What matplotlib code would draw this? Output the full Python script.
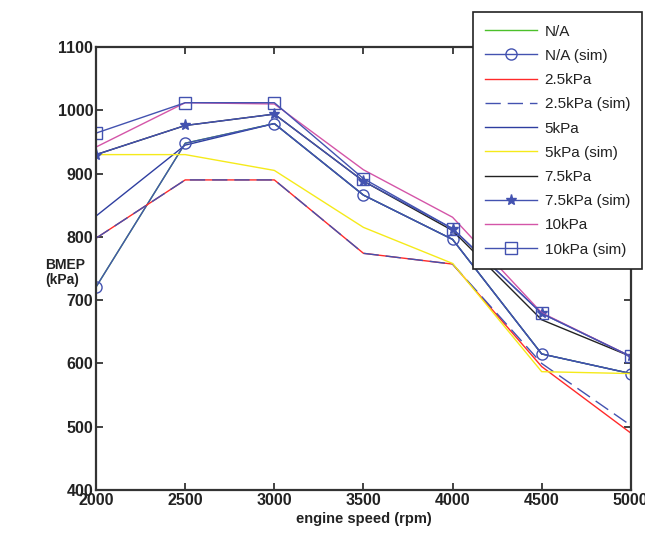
import matplotlib.pyplot as plt

plt.rcParams['font.family'] = ['Liberation Sans', 'DejaVu Sans']

rpm = [2000, 2500, 3000, 3500, 4000, 4500, 5000]

na_exp = [721, 948, 979, 866, 796, 615, 584]
na_sim = [721, 948, 979, 866, 796, 615, 584]
p25_exp = [798, 890, 890, 774, 757, 595, 490]
p25_sim = [798, 890, 890, 774, 757, 600, 502]
p5_exp = [833, 945, 979, 866, 796, 615, 584]
p5_sim = [930, 930, 905, 815, 758, 587, 584]
p75_exp = [930, 976, 994, 888, 810, 669, 611]
p75_sim = [930, 976, 994, 888, 813, 679, 611]
p10_exp = [942, 1012, 1010, 906, 831, 680, 611]
p10_sim = [964, 1012, 1012, 892, 813, 679, 611]

BLUE = "#4352b0"

fig = plt.figure(figsize=(6.45, 5.38), dpi=100)
ax = fig.add_axes([0.149, 0.0892, 0.829, 0.8234])

lw = 1.0
ax.plot(rpm, na_exp, color="#4cc02a", lw=lw, label="N/A")
ax.plot(rpm, p5_exp, color="#2e3ea0", lw=lw, label="5kPa")
ax.plot(rpm, na_sim, color=BLUE, lw=lw, marker="o", ms=8, mfc="none",
        mec=BLUE, label="N/A (sim)")
ax.plot(rpm, p25_exp, color="#ff2a2a", lw=lw, label="2.5kPa")
ax.plot(rpm, p25_sim, color=BLUE, lw=lw, dashes=(11, 5), label="2.5kPa (sim)")
ax.plot(rpm, p5_sim, color="#f5ea1a", lw=lw, label="5kPa (sim)")
ax.plot(rpm, p75_exp, color="#222222", lw=lw, label="7.5kPa")
ax.plot(rpm, p75_sim, color=BLUE, lw=lw, marker="*", ms=8, mec=BLUE,
        label="7.5kPa (sim)")
ax.plot(rpm, p10_exp, color="#d455a8", lw=lw, label="10kPa")
ax.plot(rpm, p10_sim, color=BLUE, lw=lw, marker="s", ms=9, mfc="none",
        mec=BLUE, label="10kPa (sim)")

ax.set_xlim(2000, 5000)
ax.set_ylim(400, 1100)
ax.set_xticks(rpm)
ax.set_yticks(range(400, 1101, 100))
ax.tick_params(direction="in", top=True, right=True, length=5, width=1.2,
               labelsize=11.5, colors="#222222", pad=2)
for lab in ax.get_xticklabels() + ax.get_yticklabels():
    lab.set_fontweight("bold")
for s in ax.spines.values():
    s.set_linewidth(1.6)
    s.set_color("#333333")

ax.set_xlabel("engine speed (rpm)", fontsize=10.5, fontweight="bold",
              color="#222222", labelpad=3)
fig.text(0.07, 0.493, "BMEP\n(kPa)", fontsize=10, fontweight="bold",
         color="#222222", ha="left", va="center", linespacing=1.1)

# legend kept in the same order as the reference
order = ["N/A", "N/A (sim)", "2.5kPa", "2.5kPa (sim)", "5kPa", "5kPa (sim)",
         "7.5kPa", "7.5kPa (sim)", "10kPa", "10kPa (sim)"]
handles, labels = ax.get_legend_handles_labels()
lookup = dict(zip(labels, handles))
leg = ax.legend([lookup[k] for k in order], order,
                loc="upper left", bbox_to_anchor=(0.733, 0.977),
                bbox_transform=fig.transFigure, fontsize=11, frameon=True,
                fancybox=False, edgecolor="#222222", framealpha=1,
                handlelength=3.4, handletextpad=0.5, labelspacing=0.67,
                borderpad=0.8, borderaxespad=0)
leg.get_frame().set_linewidth(1.2)
for t in leg.get_texts():
    t.set_color("#222222")

fig.savefig("out.png", dpi=100, facecolor="white")
